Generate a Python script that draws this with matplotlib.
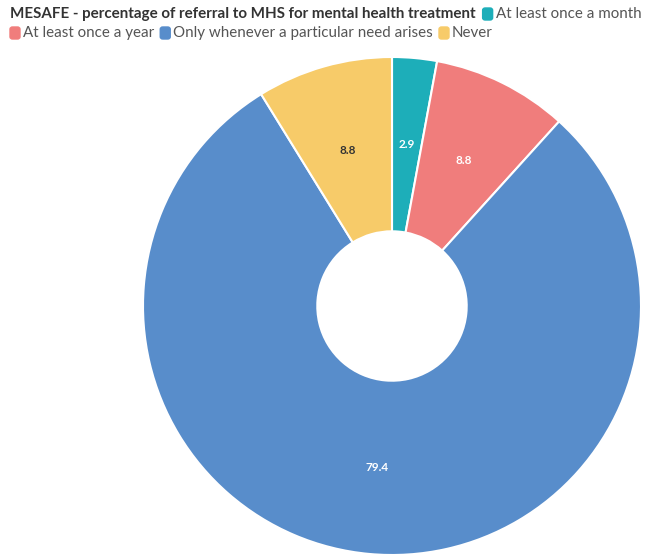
import matplotlib.pyplot as plt
import matplotlib.patches as mpatches
import numpy as np

title = "MESAFE - percentage of referral to MHS for mental health treatment"
categories = ["At least once a month", "At least once a year",
              "Only whenever a particular need arises", "Never"]
values = [2.9, 8.8, 79.4, 8.8]
colors = ["#1DAEB9", "#F07D7C", "#588DCB", "#F7CB69"]
label_colors = ["white", "white", "white", "#333333"]

W, H = 645, 556
fig = plt.figure(figsize=(W / 100, H / 100), dpi=100)
plt.rcParams['font.family'] = ['Lato', 'DejaVu Sans']

# pie axes placed in pixel coords
cx, cy, r = 392, 306, 249
ax = fig.add_axes([(cx - r) / W, (H - cy - r) / H, 2 * r / W, 2 * r / H])
wedges, _ = ax.pie(values, colors=colors, startangle=90, counterclock=False,
                   radius=1, wedgeprops=dict(width=0.7, edgecolor='white', linewidth=1.5))
ax.set_xlim(-1, 1)
ax.set_ylim(-1, 1)
ax.set_aspect('equal')
ax.axis('off')

total = sum(values)
start = 90
for v, c in zip(values, label_colors):
    ang = start - v / total * 360 / 2
    start -= v / total * 360
    rr = 0.65
    ax.text(rr * np.cos(np.radians(ang)), rr * np.sin(np.radians(ang)), f"{v}",
            ha='center', va='center', fontsize=8.5, fontweight='bold', color=c)

# legend header drawn by hand
fig.canvas.draw()
renderer = fig.canvas.get_renderer()
fs = 10.9
x0 = 10
y1 = H - 14
y2 = H - 33
t = fig.text(x0 / W, y1 / H, title, fontsize=fs, fontweight='bold', color='#333333',
             va='center', ha='left')
bb = t.get_window_extent(renderer)
x = bb.x1 + 7
rows = [(x, y1, [0]), (x0, y2, [1, 2, 3])]
for xs, y, idxs in rows:
    xx = xs
    for i in idxs:
        fig.patches.append(mpatches.FancyBboxPatch((xx / W, (y - 6) / H), 10 / W, 12 / H,
                                                   boxstyle='round,pad=0,rounding_size=0.004',
                                                   transform=fig.transFigure, color=colors[i]))
        tt = fig.text((xx + 13) / W, y / H, categories[i], fontsize=fs, color='#555555',
                      va='center', ha='left')
        b = tt.get_window_extent(renderer)
        xx = b.x1 + 6

fig.savefig("out.png", dpi=100)
